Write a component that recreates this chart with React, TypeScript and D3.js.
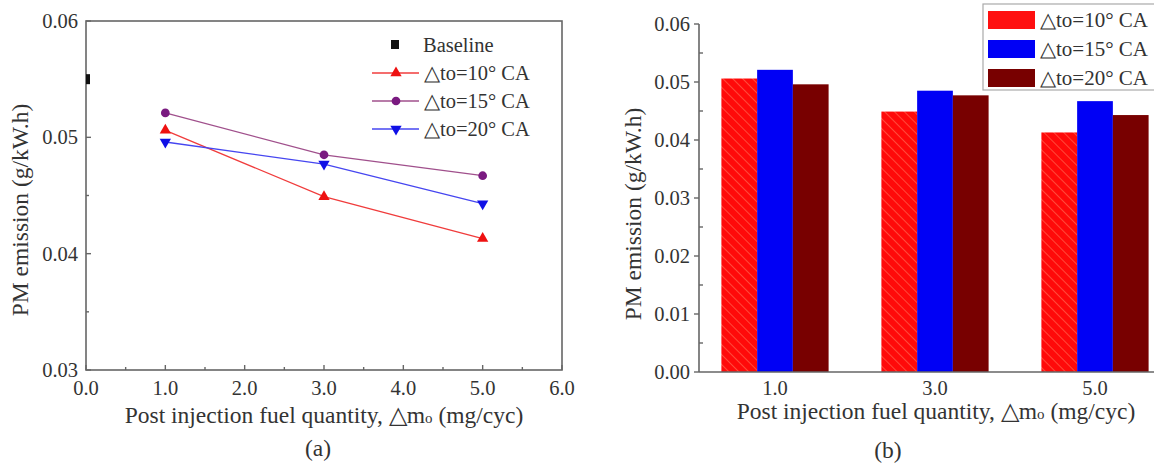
import React, { useRef, useEffect } from 'react';
import * as d3 from 'd3';

const W = 1154;
const H = 471;

// post injection quantities (mg/cyc)
const quantities = [1.0, 3.0, 5.0];
const seriesNames = ['△to=10° CA', '△to=15° CA', '△to=20° CA'];

// PM emission (g/kW.h)
const pm10 = [0.0506, 0.0449, 0.0413];
const pm15 = [0.0521, 0.0485, 0.0467];
const pm20 = [0.0496, 0.0477, 0.0443];
const baseline = [{ x: 0.0, y: 0.055 }];

const xTicksA = [0, 1, 2, 3, 4, 5, 6];
const yTicksA = [0.03, 0.04, 0.05, 0.06];
const yTicksB = [0, 0.01, 0.02, 0.03, 0.04, 0.05, 0.06];
const catLabels = ['1.0', '3.0', '5.0'];

const lineColors = ['#f03c3c', '#a0508c', '#4646f0'];
const markColors = ['#ee1111', '#7a1a80', '#1010e6'];
const barColors = ['url(#hatchRed)', '#0000f5', '#780000'];
const barSwatch = ['#ff1010', '#0000f5', '#780000'];

const FONT = '"Liberation Serif", "Times New Roman", serif';
const TICK = 20.5;
const TITLE = 23.5;

const App = () => {
  const ref = useRef<SVGSVGElement>(null);

  useEffect(() => {
    const svg = d3.select(ref.current);
    svg.selectAll('*').remove();
    const all = [pm10, pm15, pm20];

    const defs = svg.append('defs');
    const pat = defs.append('pattern')
      .attr('id', 'hatchRed')
      .attr('patternUnits', 'userSpaceOnUse')
      .attr('width', 7).attr('height', 7)
      .attr('patternTransform', 'rotate(-45)');
    pat.append('rect').attr('width', 7).attr('height', 7).attr('fill', '#ff0a0a');
    pat.append('line').attr('x1', 0).attr('y1', 0).attr('x2', 0).attr('y2', 7)
      .attr('stroke', '#ff4a3a').attr('stroke-width', 2);
    defs.append('clipPath').attr('id', 'clipA')
      .append('rect').attr('x', 86).attr('y', 21).attr('width', 476).attr('height', 349);

    // ---------- (a) line chart ----------
    const xA = d3.scaleLinear().domain([0, 6]).range([86, 562]);
    const yA = d3.scaleLinear().domain([0.03, 0.06]).range([370, 21]);
    const ga = svg.append('g');

    ga.append('rect')
      .attr('x', xA(0)).attr('y', yA(0.06))
      .attr('width', xA(6) - xA(0)).attr('height', yA(0.03) - yA(0.06))
      .attr('fill', 'none').attr('stroke', '#666').attr('stroke-width', 1.6);

    d3.range(0, 6.01, 0.5).forEach(t => {
      const major = Math.abs(t - Math.round(t)) < 1e-6;
      ga.append('line')
        .attr('x1', xA(t)).attr('x2', xA(t))
        .attr('y1', yA(0.03)).attr('y2', yA(0.03) - (major ? 5 : 3))
        .attr('stroke', '#666').attr('stroke-width', 1.4);
    });
    d3.range(0.03, 0.0601, 0.005).forEach(t => {
      const major = Math.abs(t * 100 - Math.round(t * 100)) < 1e-6;
      ga.append('line')
        .attr('x1', xA(0)).attr('x2', xA(0) + (major ? 5 : 3))
        .attr('y1', yA(t)).attr('y2', yA(t))
        .attr('stroke', '#666').attr('stroke-width', 1.4);
    });

    ga.selectAll('.xl').data(xTicksA).enter().append('text')
      .attr('x', d => xA(d)).attr('y', 395)
      .attr('text-anchor', 'middle')
      .attr('font-size', TICK).attr('font-family', FONT).attr('fill', '#333')
      .text(d => d3.format('.1f')(d));
    ga.selectAll('.yl').data(yTicksA).enter().append('text')
      .attr('x', 78).attr('y', d => yA(d) + 7)
      .attr('text-anchor', 'end')
      .attr('font-size', TICK).attr('font-family', FONT).attr('fill', '#333')
      .text(d => d3.format('.2f')(d));

    const plotA = ga.append('g').attr('clip-path', 'url(#clipA)');
    plotA.selectAll('.base').data(baseline).enter().append('rect')
      .attr('x', d => xA(d.x) - 4).attr('y', d => yA(d.y) - 5)
      .attr('width', 8).attr('height', 10).attr('fill', '#111');

    const line = d3.line<number>()
      .x((_, i) => xA(quantities[i]))
      .y(d => yA(d));
    const symbols = [
      d3.symbol().type(d3.symbolTriangle).size(55),
      d3.symbol().type(d3.symbolCircle).size(60),
      d3.symbol().type(d3.symbolTriangle).size(55),
    ];
    all.forEach((vals, s) => {
      plotA.append('path').attr('d', line(vals) as string)
        .attr('fill', 'none').attr('stroke', lineColors[s]).attr('stroke-width', 1.3);
      plotA.selectAll('.m' + s).data(vals).enter().append('path')
        .attr('d', symbols[s]() as string)
        .attr('transform', (d, i) => `translate(${xA(quantities[i])},${yA(d)})${s === 2 ? ' rotate(180)' : ''}`)
        .attr('fill', markColors[s]);
    });

    // legend (a)
    const legA = ga.append('g').attr('font-family', FONT).attr('font-size', TICK).attr('fill', '#333');
    legA.append('rect').attr('x', 391).attr('y', 40).attr('width', 8).attr('height', 9).attr('fill', '#111');
    legA.append('text').attr('x', 423).attr('y', 52).text('Baseline');
    seriesNames.forEach((name, s) => {
      const y = 73 + s * 28;
      legA.append('line').attr('x1', 372).attr('x2', 419).attr('y1', y).attr('y2', y)
        .attr('stroke', lineColors[s]).attr('stroke-width', 1.3);
      legA.append('path').attr('d', symbols[s]() as string)
        .attr('transform', `translate(396,${y})${s === 2 ? ' rotate(180)' : ''}`)
        .attr('fill', markColors[s]);
      legA.append('text').attr('x', 424).attr('y', y + 7).text(name);
    });

    ga.append('text')
      .attr('x', 324).attr('y', 423).attr('text-anchor', 'middle')
      .attr('font-size', TITLE).attr('font-family', FONT).attr('fill', '#333')
      .text('Post injection fuel quantity, △m')
      .append('tspan').attr('font-size', 15).text('o')
      .append('tspan').attr('font-size', TITLE).text(' (mg/cyc)');
    ga.append('text')
      .attr('transform', 'translate(28,210) rotate(-90)').attr('text-anchor', 'middle')
      .attr('font-size', TITLE).attr('font-family', FONT).attr('fill', '#333')
      .text('PM emission (g/kW.h)');
    ga.append('text')
      .attr('x', 318).attr('y', 456).attr('text-anchor', 'middle')
      .attr('font-size', TITLE).attr('font-family', FONT).attr('fill', '#333')
      .text('(a)');

    // ---------- (b) bar chart ----------
    const xB = d3.scaleBand<string>().domain(catLabels).range([695, 1175])
      .paddingInner(0.33).paddingOuter(0.165);
    const xS = d3.scaleBand<number>().domain([0, 1, 2]).range([0, xB.bandwidth()]);
    const yB = d3.scaleLinear().domain([0, 0.06]).range([372, 24]);
    const gb = svg.append('g');

    catLabels.forEach((c, ci) => {
      all.forEach((vals, s) => {
        gb.append('rect')
          .attr('x', (xB(c) as number) + (xS(s) as number))
          .attr('y', yB(vals[ci]))
          .attr('width', xS.bandwidth())
          .attr('height', yB(0) - yB(vals[ci]))
          .attr('fill', barColors[s]);
      });
    });

    gb.append('line').attr('x1', 699).attr('x2', 699).attr('y1', yB(0.06)).attr('y2', yB(0))
      .attr('stroke', '#666').attr('stroke-width', 1.6);
    gb.append('line').attr('x1', 699).attr('x2', W).attr('y1', yB(0)).attr('y2', yB(0))
      .attr('stroke', '#666').attr('stroke-width', 1.6);
    d3.range(0, 0.0601, 0.005).forEach(t => {
      const major = Math.abs(t * 100 - Math.round(t * 100)) < 1e-6;
      gb.append('line')
        .attr('x1', 699).attr('x2', major ? 694 : 703)
        .attr('y1', yB(t)).attr('y2', yB(t))
        .attr('stroke', '#666').attr('stroke-width', 1.4);
    });
    gb.selectAll('.yl').data(yTicksB).enter().append('text')
      .attr('x', 690).attr('y', d => yB(d) + 7)
      .attr('text-anchor', 'end')
      .attr('font-size', TICK).attr('font-family', FONT).attr('fill', '#333')
      .text(d => d3.format('.2f')(d));
    gb.selectAll('.xl').data(catLabels).enter().append('text')
      .attr('x', d => (xB(d) as number) + xB.bandwidth() / 2).attr('y', 395)
      .attr('text-anchor', 'middle')
      .attr('font-size', TICK).attr('font-family', FONT).attr('fill', '#333')
      .text(d => d);

    gb.append('text')
      .attr('x', 936).attr('y', 419).attr('text-anchor', 'middle')
      .attr('font-size', TITLE).attr('font-family', FONT).attr('fill', '#333')
      .text('Post injection fuel quantity, △m')
      .append('tspan').attr('font-size', 15).text('o')
      .append('tspan').attr('font-size', TITLE).text(' (mg/cyc)');
    gb.append('text')
      .attr('transform', 'translate(641,214) rotate(-90)').attr('text-anchor', 'middle')
      .attr('font-size', TITLE).attr('font-family', FONT).attr('fill', '#333')
      .text('PM emission (g/kW.h)');
    gb.append('text')
      .attr('x', 888).attr('y', 458).attr('text-anchor', 'middle')
      .attr('font-size', TITLE).attr('font-family', FONT).attr('fill', '#333')
      .text('(b)');

    // legend (b)
    const legB = gb.append('g').attr('font-family', FONT).attr('font-size', 21).attr('fill', '#333');
    legB.append('rect').attr('x', 983).attr('y', 4).attr('width', 175).attr('height', 86)
      .attr('fill', '#fff').attr('stroke', '#aaa').attr('stroke-width', 1.2);
    seriesNames.forEach((name, s) => {
      const y = 11 + s * 29;
      legB.append('rect').attr('x', 988).attr('y', y).attr('width', 47).attr('height', 18)
        .attr('fill', barSwatch[s]);
      legB.append('text').attr('x', 1040).attr('y', y + 16).text(name);
    });
  }, []);

  return (
    <div style={{ position: 'absolute', left: 0, top: 0, background: '#fff' }}>
      <svg ref={ref} width={W} height={H} style={{ display: 'block' }} />
    </div>
  );
};

export default App;
